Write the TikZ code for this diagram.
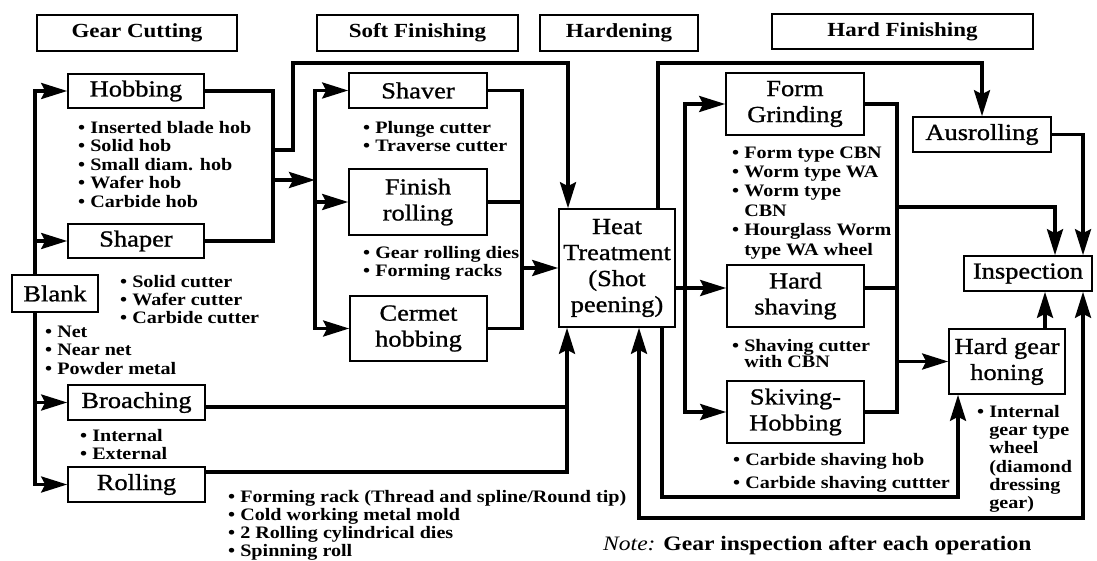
\documentclass[tikz,border=0pt]{standalone}
\usepackage{fontspec}
\setmainfont{Liberation Serif}[FakeStretch=1.15]
\newfontfamily\boxfont{Liberation Serif}[FakeStretch=1.15,FakeBold=1]
\usetikzlibrary{arrows.meta,backgrounds}
\newcommand{\firststrut}{\rule{0pt}{13pt}}
\newcommand{\bind}{\hphantom{• }}
\begin{document}
\begin{tikzpicture}[x=1pt,y=-1pt,
 box/.style={draw, line width=1.6pt, fill=white, inner sep=0pt, align=center, font=\boxfont\fontsize{23}{26}\selectfont},
 hdr/.style={draw, line width=1.6pt, fill=white, inner sep=0pt, font=\bfseries\fontsize{20}{22}\selectfont},
 blist/.style={anchor=north west, inner sep=0pt, align=left, font=\bfseries\fontsize{17.5}{18.5}\selectfont},
 ln/.style={line width=3.4pt, line cap=rect},
 arr/.style={line width=3.4pt, -{Stealth[length=26pt,width=16pt,inset=4pt]}},
 darr/.style={line width=3.4pt, {Stealth[length=26pt,width=16pt,inset=4pt]}-{Stealth[length=26pt,width=16pt,inset=4pt]}}]
\useasboundingbox (0,0) rectangle (1097,561);

% headers
\node[hdr, minimum width=200pt, minimum height=36pt] (hgc) at (137,33) {Gear Cutting};
\node[hdr, minimum width=201pt, minimum height=36pt] (hsf) at (417.5,33) {Soft Finishing};
\node[hdr, minimum width=158pt, minimum height=36pt] (hhd) at (619,33) {Hardening};
\node[hdr, minimum width=261pt, minimum height=35pt] (hhf) at (902.5,31.5) {Hard Finishing};

% process boxes
\node[box, minimum width=136pt, minimum height=34pt] (hob) at (136,91) {Hobbing};
\node[box, minimum width=136pt, minimum height=34pt] (shaper) at (136,241) {Shaper};
\node[box, minimum width=86pt, minimum height=37pt] (blank) at (55,293.5) {Blank};
\node[box, minimum width=137pt, minimum height=35pt] (broach) at (136.5,402.5) {Broaching};
\node[box, minimum width=137pt, minimum height=35pt] (rolling) at (136.5,484.5) {Rolling};
\node[box, minimum width=138pt, minimum height=35pt] (shaver) at (418,90.5) {Shaver};
\node[box, minimum width=138pt, minimum height=66pt] (finish) at (418,202) {Finish\\rolling};
\node[box, minimum width=137pt, minimum height=65pt] (cermet) at (418.5,328.5) {Cermet\\hobbing};
\node[box, minimum width=116pt, minimum height=118pt] (heat) at (617,268) {Heat\\Treatment\\(Shot\\peening)};
\node[box, minimum width=138pt, minimum height=62pt] (form) at (795,104) {Form\\Grinding};
\node[box, minimum width=137pt, minimum height=62pt] (hardshav) at (795.5,296) {Hard\\shaving};
\node[box, minimum width=137pt, minimum height=62pt] (skiving) at (795.5,412) {Skiving-\\Hobbing};
\node[box, minimum width=138pt, minimum height=35pt] (aus) at (982,134.5) {Ausrolling};
\node[box, minimum width=128pt, minimum height=35pt] (inspection) at (1028,273.5) {Inspection};
\node[box, minimum width=116pt, minimum height=65pt] (honing) at (1007,361.5) {Hard gear\\honing};

% bullet lists
\node[blist] (lhob) at (78,120) {\firststrut• Inserted blade hob\\• Solid hob\\• Small diam. hob\\• Wafer hob\\• Carbide hob};
\node[blist, font=\bfseries\fontsize{17.5}{18}\selectfont] (lshaper) at (120,274) {\firststrut• Solid cutter\\• Wafer cutter\\• Carbide cutter};
\node[blist] (lblank) at (45,324) {\firststrut• Net\\• Near net\\• Powder metal};
\node[blist] (lbroach) at (80,428) {\firststrut• Internal\\• External};
\node[blist, font=\bfseries\fontsize{17.5}{18}\selectfont] (lrolling) at (228,489) {\firststrut• Forming rack (Thread and spline/Round tip)\\• Cold working metal mold\\• 2 Rolling cylindrical dies\\• Spinning roll};
\node[blist] (lshaver) at (363,120) {\firststrut• Plunge cutter\\• Traverse cutter};
\node[blist] (lfinish) at (363,245) {\firststrut• Gear rolling dies\\• Forming racks};
\node[blist, font=\bfseries\fontsize{17.5}{19.4}\selectfont] (lform) at (732,145) {\firststrut• Form type CBN\\• Worm type WA\\• Worm type\\\bind CBN\\• Hourglass Worm\\\bind type WA wheel};
\node[blist, font=\bfseries\fontsize{17.5}{16.5}\selectfont] (lhard) at (732,338) {\firststrut• Shaving cutter\\\bind with CBN};
\node[blist, font=\bfseries\fontsize{17.5}{23}\selectfont] (lskiv) at (733,452) {\firststrut• Carbide shaving hob\\• Carbide shaving cuttter};
\node[blist, font=\bfseries\fontsize{17.5}{18.3}\selectfont] (lhon) at (977,404) {\firststrut• Internal\\\bind gear type\\\bind wheel\\\bind (diamond\\\bind dressing\\\bind gear)};
\node[anchor=base west, inner sep=0pt, font=\fontsize{20.5}{22}\selectfont] (note) at (603,550) {\textit{Note:} \textbf{Gear inspection after each operation}};

\begin{scope}[on background layer]
% blank trunk
\coordinate (bT) at (35,91);
\coordinate (bB) at (35,484.5);
\draw[ln] (bT) -- (bB);
\draw[arr] (bT) -- (hob.west);
\draw[arr] (bT |- shaper.west) -- (shaper.west);
\draw[arr] (bT |- broach.west) -- (broach.west);
\draw[arr] (bB) -- (rolling.west);
% hobbing / shaper bus
\coordinate (hsx) at (273,150);
\coordinate (hsy) at (293,150);
\coordinate (hA) at (568,63);
\draw[ln] (hob.east) -| (hsx |- shaper.east) -- (shaper.east);
\draw[arr] (hsx) -- (hsy) |- (hA) -- (hA |- heat.north);
\coordinate (j1) at (273,180);
\coordinate (sT) at (315,90.5);
\draw[arr] (j1) -- (j1 -| sT);
% soft finishing
\draw[ln] (sT) -- (sT |- cermet.west);
\draw[arr] (sT) -- (shaver.west);
\draw[arr] (sT |- finish.west) -- (finish.west);
\draw[arr] (sT |- cermet.west) -- (cermet.west);
\coordinate (sR) at (522,90.5);
\draw[ln] (shaver.east) -- (sR) -- (sR |- cermet.east) -- (cermet.east);
\draw[ln] (finish.east) -- (finish.east -| sR);
\draw[arr] (sR |- heat.west) -- (heat.west);
% broaching / rolling
\coordinate (hB) at (567,407);
\draw[ln] ([yshift=-4.5pt]broach.east) -- (hB);
\draw[arr] ([yshift=12.5pt]rolling.east) -| (hB |- heat.south);
% heat top to ausrolling
\coordinate (hT) at (658,63);
\draw[arr] (hT |- heat.north) -- (hT) -| (aus.north);
% hard finishing trunk
\coordinate (fT) at (685,104);
\coordinate (fM) at (685,288);
\draw[ln] ([yshift=-20pt]heat.east) -- (fM);
\draw[ln] (fT) -- (fT |- skiving.west);
\draw[arr] (fT) -- (form.west);
\draw[arr] (fM) -- (fM -| hardshav.west);
\draw[arr] (fT |- skiving.west) -- (skiving.west);
% right bus
\coordinate (gR) at (897,104);
\draw[ln] (form.east) -- (gR) -- (gR |- skiving.east) -- (skiving.east);
\draw[ln] ([yshift=8pt]hardshav.east) -- ([yshift=8pt]hardshav.east -| gR);
\draw[arr] (gR |- honing.west) -- (honing.west);
\coordinate (gI) at (897,207);
\draw[arr] (gI) -| ([xshift=27pt]inspection.north);
\draw[arr] (aus.east) -| ([xshift=55pt]inspection.north);
\draw[arr] ([xshift=38pt]honing.north) -- ([xshift=38pt]honing.north |- inspection.south);
% loops
\coordinate (lp1) at (958,497);
\draw[arr] ([xshift=45pt]heat.south) |- (lp1) -- (lp1 |- honing.south);
\coordinate (lp2) at (1083,518);
\draw[darr] ([xshift=22pt]heat.south) |- (lp2) -- (lp2 |- inspection.south);
\end{scope}
\end{tikzpicture}
\end{document}
